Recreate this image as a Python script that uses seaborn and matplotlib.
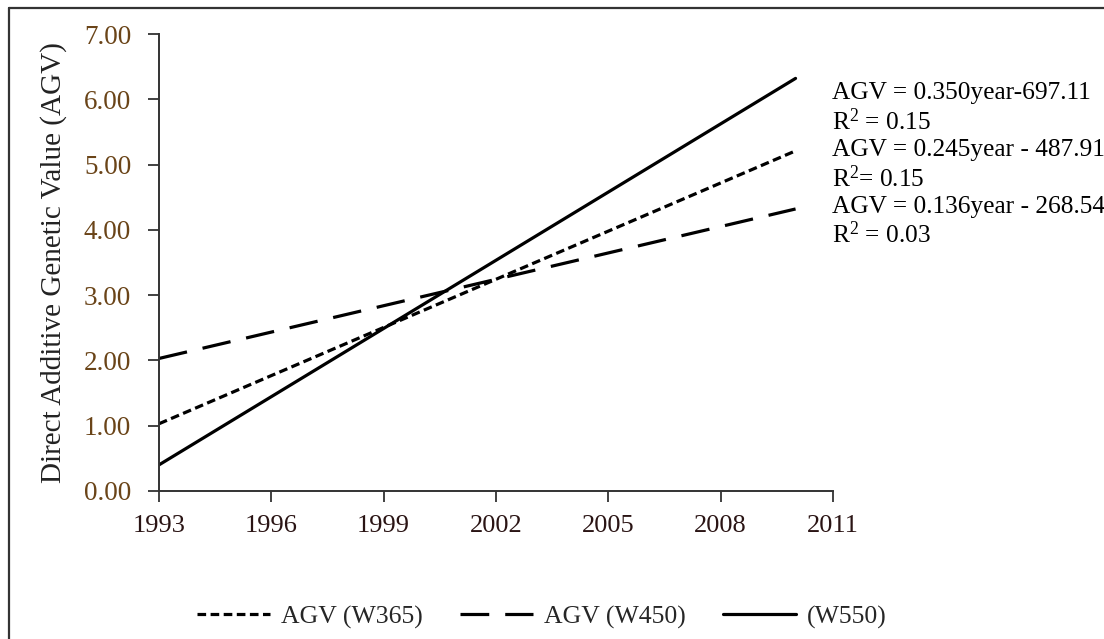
import matplotlib
matplotlib.use("Agg")
import matplotlib.pyplot as plt
from matplotlib.lines import Line2D
import seaborn as sns
import pandas as pd

# ---- data (trend-line end points) ----
years = [1993, 2010]
agv_w365 = [1.03, 5.21]
agv_w450 = [2.03, 4.32]
agv_w550 = [0.40, 6.32]
series_labels = ["AGV (W365)", "AGV (W450)", "(W550)"]
x_ticks = [1993, 1996, 1999, 2002, 2005, 2008, 2011]
y_ticks = [0, 1, 2, 3, 4, 5, 6, 7]
equations = [
    "AGV = 0.350year-697.11",
    "R$^2$ = 0.15",
    "AGV = 0.245year - 487.91",
    "R$^2$= 0.15",
    "AGV = 0.136year - 268.54",
    "R$^2$ = 0.03",
]

df = pd.DataFrame({
    "year": years * 3,
    "agv": agv_w365 + agv_w450 + agv_w550,
    "series": [series_labels[0]] * 2 + [series_labels[1]] * 2 + [series_labels[2]] * 2,
})

sns.set_theme(style="white")
plt.rcParams["font.family"] = ["Liberation Serif", "DejaVu Serif"]
plt.rcParams["mathtext.fontset"] = "custom"
plt.rcParams["mathtext.rm"] = "Liberation Serif"
plt.rcParams["mathtext.it"] = "Liberation Serif:italic"
plt.rcParams["mathtext.bf"] = "Liberation Serif:bold"

W, H = 1104, 639
fig = plt.figure(figsize=(W / 100, H / 100), dpi=100)
ax = fig.add_axes([159 / W, 1 - 491 / H, (833 - 159) / W, (491 - 34) / H])

sns.lineplot(
    data=df, x="year", y="agv", hue="series", style="series",
    palette={s: "black" for s in series_labels},
    dashes={series_labels[0]: (2.7, 1.4), series_labels[1]: (9, 5), series_labels[2]: ""},
    linewidth=2.3, ax=ax, legend=False,
)

ax.set_xlim(1993, 2011)
ax.set_ylim(0, 7)
ax.set_xticks(x_ticks)
ax.set_yticks(y_ticks)
ax.set_yticklabels([f"{v:.2f}" for v in y_ticks])
ax.set_xlabel("")
ax.set_ylabel("Direct Additive Genetic Value (AGV)", fontsize=21, color="#222222")
ax.yaxis.set_label_coords((67 - 159) / (833 - 159), 0.5)
ax.tick_params(axis="x", direction="out", length=8, width=1.3, color="#333333",
               labelsize=19, labelcolor="#2a1414", pad=9, bottom=True)
ax.tick_params(axis="y", direction="out", length=8, width=1.3, color="#333333",
               labelsize=19.5, labelcolor="#6a4418", pad=12, left=True)
for s in ["top", "right"]:
    ax.spines[s].set_visible(False)
for s in ["left", "bottom"]:
    ax.spines[s].set_color("#333333")
    ax.spines[s].set_linewidth(1.4)

# equation annotations
for i, t in enumerate(equations):
    fig.text(832 / W, 1 - (93 + i * 28.4) / H, t, fontsize=18.3, color="black",
             ha="left", va="center")

# legend
handles = [
    Line2D([], [], color="black", lw=2.3, dashes=(2.7, 1.4)),
    Line2D([], [], color="black", lw=2.3, dashes=(9, 5)),
    Line2D([], [], color="black", lw=2.3),
]
fig.legend(handles, series_labels, loc="center", bbox_to_anchor=(542 / W, 1 - 617 / H),
           ncol=3, frameon=False, fontsize=18.5, handlelength=2.84, columnspacing=1.44,
           handletextpad=0.43)

# partial frame (top and left) around the figure
fig.add_artist(Line2D([9 / W, 9 / W], [0, 1 - 8 / H], transform=fig.transFigure,
                      color="#333333", lw=1.6))
fig.add_artist(Line2D([9 / W, 1], [1 - 8 / H, 1 - 8 / H], transform=fig.transFigure,
                      color="#333333", lw=1.6))

fig.savefig("out.png", dpi=100, facecolor="white")
